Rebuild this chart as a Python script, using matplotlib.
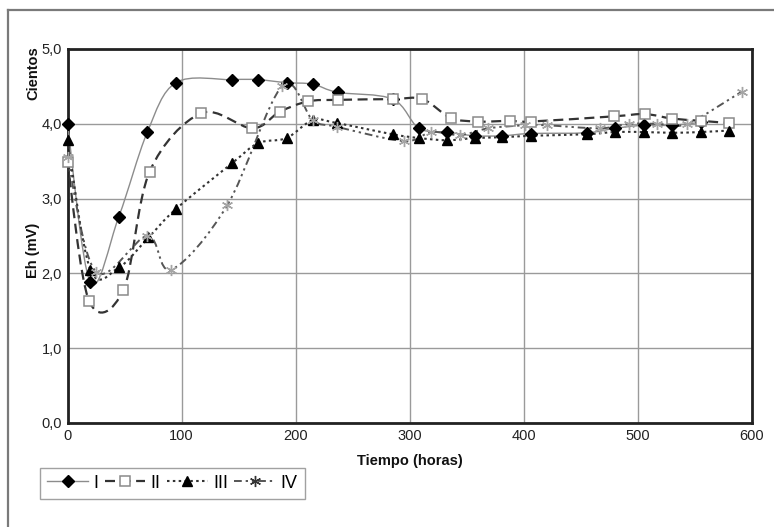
import numpy as np
import matplotlib
matplotlib.use("Agg")
import matplotlib.pyplot as plt
from matplotlib.path import Path
from matplotlib.patches import PathPatch
from matplotlib.lines import Line2D
from matplotlib.ticker import FuncFormatter

plt.rcParams["font.family"] = ["Liberation Sans", "DejaVu Sans"]

# ---------------- data ----------------
t_I = [0, 20, 45, 70, 95, 144, 167, 192, 215, 237, 285, 308, 333, 357, 381, 406, 455, 480, 505, 530, 555]
eh_I = [4.00, 1.88, 2.76, 3.89, 4.55, 4.59, 4.59, 4.55, 4.53, 4.42, 4.33, 3.94, 3.89, 3.84, 3.84, 3.87, 3.88, 3.94, 3.98, 3.98, 4.02]

t_II = [0, 19, 49, 72, 117, 162, 186, 211, 237, 285, 311, 336, 360, 388, 406, 479, 506, 530, 555, 580]
eh_II = [3.49, 1.63, 1.78, 3.36, 4.14, 3.94, 4.16, 4.30, 4.32, 4.33, 4.33, 4.08, 4.03, 4.04, 4.03, 4.10, 4.13, 4.07, 4.04, 4.01]

t_III = [0, 20, 45, 71, 95, 144, 167, 192, 215, 236, 285, 308, 333, 357, 381, 406, 455, 480, 505, 530, 555, 580]
eh_III = [3.78, 2.05, 2.08, 2.48, 2.86, 3.47, 3.74, 3.81, 4.05, 4.01, 3.86, 3.81, 3.78, 3.81, 3.82, 3.84, 3.86, 3.89, 3.89, 3.88, 3.89, 3.91]

t_IV = [0, 25, 70, 91, 140, 188, 215, 236, 295, 319, 344, 369, 401, 420, 467, 492, 517, 543, 591]
eh_IV = [3.55, 2.02, 2.50, 2.05, 2.91, 4.50, 4.05, 3.96, 3.77, 3.89, 3.85, 3.94, 3.98, 3.98, 3.94, 4.00, 4.00, 4.00, 4.43]

labels = ["I", "II", "III", "IV"]
x_ticks = [0, 100, 200, 300, 400, 500, 600]
y_ticks = [0.0, 1.0, 2.0, 3.0, 4.0, 5.0]


def smooth_path(xs, ys):
    """Excel-like smoothed line as cubic Bezier segments through the points."""
    p = np.column_stack([xs, ys]).astype(float)
    n = len(p)
    verts = [p[0]]
    codes = [Path.MOVETO]
    for i in range(n - 1):
        p0 = p[i - 1] if i > 0 else p[i]
        p1 = p[i]
        p2 = p[i + 1]
        p3 = p[i + 2] if i + 2 < n else p[i + 1]
        c1 = p1 + (p2 - p0) / 6.0
        c2 = p2 - (p3 - p1) / 6.0
        verts += [c1, c2, p2]
        codes += [Path.CURVE4] * 3
    return Path(verts, codes)


fig = plt.figure(figsize=(7.74, 5.27), dpi=100)
fig.patch.set_facecolor("white")

# outer frame (top and left visible)
fig.add_artist(Line2D([8 / 774, 773 / 774], [1 - 10 / 527, 1 - 10 / 527],
                      transform=fig.transFigure, color="#7a7a7a", lw=1.6))
fig.add_artist(Line2D([8 / 774, 8 / 774], [1 - 10 / 527, 0],
                      transform=fig.transFigure, color="#7a7a7a", lw=1.6))

ax = fig.add_axes([67.5 / 774, 104 / 527, (752 - 67.5) / 774, (423 - 49) / 527])
ax.set_xlim(0, 600)
ax.set_ylim(0, 5)
ax.set_xticks(x_ticks)
ax.set_yticks(y_ticks)
ax.yaxis.set_major_formatter(FuncFormatter(lambda v, p: f"{v:.1f}".replace(".", ",")))
ax.grid(True, color="#9a9a9a", lw=1.0)
ax.set_axisbelow(True)
for s in ax.spines.values():
    s.set_color("#222222")
    s.set_linewidth(2.0)
ax.tick_params(length=0, labelsize=10.5, colors="#222222", pad=4)

series = [
    (t_I, eh_I, dict(color="#8c8c8c", lw=1.0, ls="-"),
     dict(marker="D", ms=6, mfc="black", mec="black")),
    (t_II, eh_II, dict(color="#333333", lw=1.6, ls=(0, (4.5, 2.5))),
     dict(marker="s", ms=7.5, mfc="white", mec="#8a8a8a", mew=1.1)),
    (t_III, eh_III, dict(color="#333333", lw=1.5, ls=(0, (1.2, 1.6))),
     dict(marker="^", ms=7.5, mfc="black", mec="black")),
    (t_IV, eh_IV, dict(color="#555555", lw=1.4, ls=(0, (4, 2, 1.2, 2, 1.2, 2))),
     dict(marker=(6, 2, 0), ms=8, mfc="none", mec="#a5a5a5", mew=1.0)),
]

handles = []
for (xs, ys, lsty, msty), lab in zip(series, labels):
    patch = PathPatch(smooth_path(xs, ys), facecolor="none", edgecolor=lsty["color"],
                      lw=lsty["lw"], linestyle=lsty["ls"], zorder=3)
    ax.add_patch(patch)
    ax.plot(xs, ys, ls="none", zorder=4, clip_on=False, **msty)
    hm = dict(msty)
    if lab == "IV":
        hm["mec"] = "#333333"
    handles.append(Line2D([], [], color=lsty["color"], lw=lsty["lw"], ls=lsty["ls"], **hm))

fig.text(410 / 774, 1 - 461 / 527, "Tiempo (horas)", ha="center", va="center",
         fontsize=10.5, fontweight="bold", color="#111111")
fig.text(33 / 774, 1 - 250 / 527, "Eh (mV)", ha="center", va="center", rotation=90,
         fontsize=10.5, fontweight="bold", color="#111111")
fig.text(33 / 774, 1 - 73 / 527, "Cientos", ha="center", va="center", rotation=90,
         fontsize=10.5, fontweight="bold", color="#111111")

leg = fig.legend(handles, labels, ncol=4, loc="lower left",
                 bbox_to_anchor=(40 / 774, 1 - 499 / 527),
                 fontsize=13, frameon=True, fancybox=False, handlelength=2.25,
                 handletextpad=0.3, columnspacing=0.35, borderpad=0.4,
                 borderaxespad=0)
leg.get_frame().set_edgecolor("#8a8a8a")
leg.get_frame().set_linewidth(1.0)

fig.savefig("out.png", dpi=100, facecolor="white")
